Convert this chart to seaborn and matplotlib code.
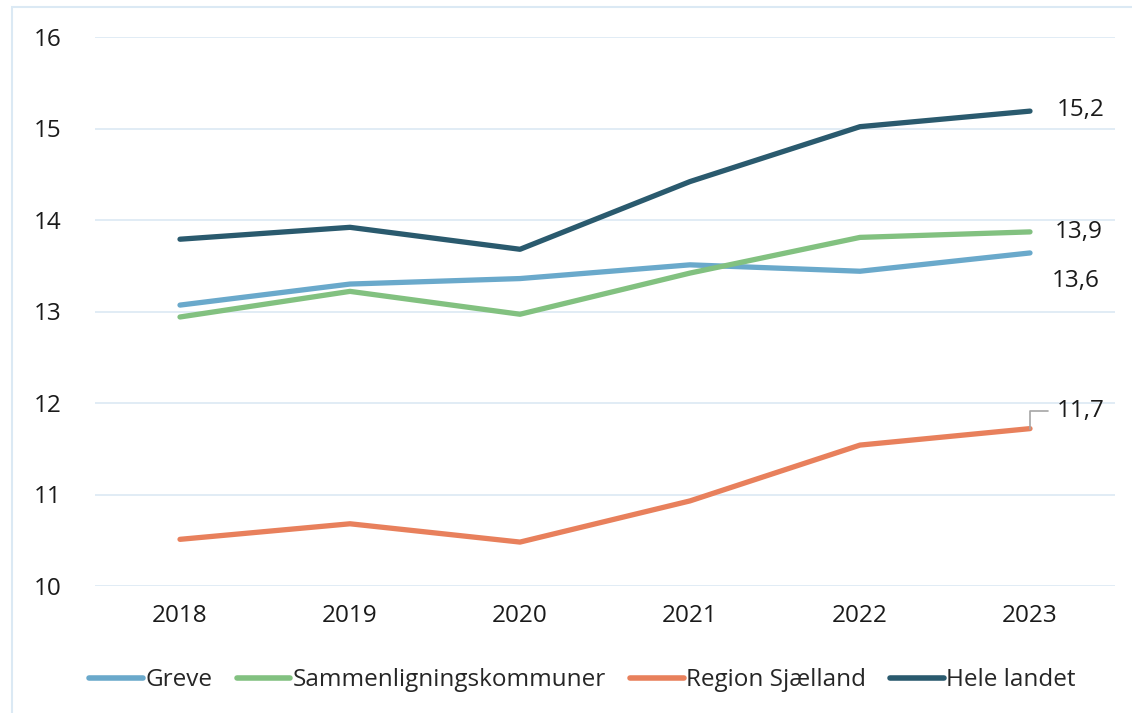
import numpy as np
import pandas as pd
import matplotlib.pyplot as plt
from matplotlib.patches import Rectangle
import seaborn as sns

# data ------------------------------------------------------------------
years = ['2018', '2019', '2020', '2021', '2022', '2023']
greve = [13.07, 13.30, 13.36, 13.51, 13.44, 13.64]
sammen = [12.94, 13.22, 12.97, 13.42, 13.81, 13.87]
region = [10.51, 10.68, 10.48, 10.93, 11.54, 11.72]
hele = [13.79, 13.92, 13.68, 14.42, 15.02, 15.19]
series_names = ['Greve', 'Sammenligningskommuner', 'Region Sjælland', 'Hele landet']
series_colors = ['#6aa9cb', '#82c180', '#e8805c', '#2a5a6e']
end_labels = ['13,6', '13,9', '11,7', '15,2']

df = pd.DataFrame({'år': years * 4,
                   'værdi': greve + sammen + region + hele,
                   'serie': np.repeat(series_names, len(years))})

sns.set_theme(style="white")
plt.rcParams['font.family'] = ['Open Sans', 'DejaVu Sans']
fs = 17.5

fig = plt.figure(figsize=(11.32, 7.13), dpi=100)
ax = fig.add_axes([95 / 1132, 1 - 586 / 713, 1020 / 1132, 549 / 713])

# ramme
fig.patches.append(Rectangle((12 / 1132, -0.1), 1.2, 1 - 7 / 713 + 0.1, transform=fig.transFigure,
                             fill=False, edgecolor='#dbe9f4', linewidth=1.5, zorder=0))

sns.lineplot(data=df, x='år', y='værdi', hue='serie', hue_order=series_names,
             palette=series_colors, linewidth=3.8, sort=False, ax=ax,
             solid_capstyle='round')

ax.set_xlim(-0.5, 5.5)
ax.set_ylim(10, 16)
ax.set_yticks([10, 11, 12, 13, 14, 15, 16])
ax.grid(axis='y', color='#dbe9f4', linewidth=1.2)
ax.set_axisbelow(True)
for s in ax.spines.values():
    s.set_visible(False)
ax.set_xlabel('')
ax.set_ylabel('')
ax.tick_params(axis='both', length=0, labelsize=fs, colors='#1a1a1a')
ax.tick_params(axis='y', pad=24)
ax.tick_params(axis='x', pad=13)

# slut-etiketter
last = [greve[-1], sammen[-1], region[-1], hele[-1]]
offsets = [(16, -20), (18, 0), (19, 13), (19, 1)]
for i, (v, lab, off) in enumerate(zip(last, end_labels, offsets)):
    if series_names[i] == 'Region Sjælland':
        ax.annotate(lab, xy=(5, v), xytext=off, textcoords='offset points',
                    fontsize=fs, va='center', ha='left', color='#1a1a1a',
                    arrowprops=dict(arrowstyle='-', color='#a6a6a6', lw=1.2,
                                    shrinkA=4, shrinkB=0,
                                    connectionstyle='angle,angleA=0,angleB=90,rad=0'))
    else:
        ax.annotate(lab, xy=(5, v), xytext=off, textcoords='offset points',
                    fontsize=fs, va='center', ha='left', color='#1a1a1a')

leg = ax.legend(loc='upper center', bbox_to_anchor=(0.478, -0.11), ncol=4, frameon=False,
                fontsize=fs, handlelength=2.2, handletextpad=0.1, columnspacing=1.0)
for line in leg.get_lines():
    line.set_linewidth(4)
    line.set_solid_capstyle('round')

fig.savefig('out.png', dpi=100)
